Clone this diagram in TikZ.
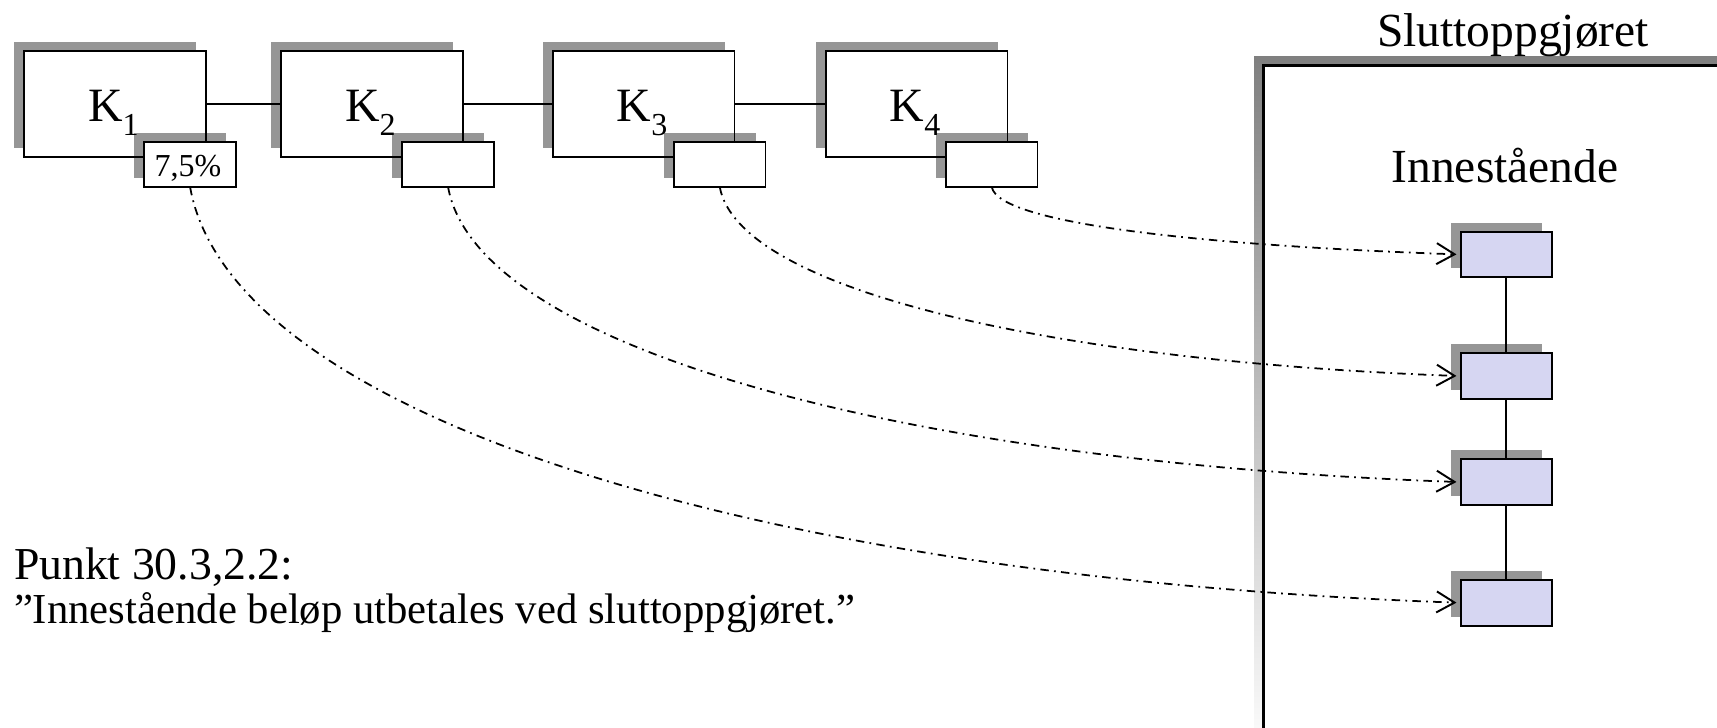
\documentclass[tikz,border=0pt]{standalone}
\usepackage{fontspec}
\setmainfont{Liberation Serif}
\usetikzlibrary{arrows.meta}
\pgfdeclarelayer{framelayer}
\pgfdeclarelayer{bg}
\pgfsetlayers{framelayer,bg,main}
\definecolor{shade}{RGB}{150,150,150}
\definecolor{lav}{RGB}{214,214,242}
\tikzset{
  kbox/.style={draw, line width=0.5pt, minimum width=1.817cm, minimum height=1.06cm, inner sep=0pt, outer sep=0pt, anchor=north west},
  sbox/.style={draw, fill=white, line width=0.5pt, minimum width=0.915cm, minimum height=0.453cm, inner sep=0pt, outer sep=0pt, anchor=north west},
  bluebox/.style={draw, fill=lav, line width=0.55pt, minimum width=0.91cm, minimum height=0.456cm, inner sep=0pt, outer sep=0pt, anchor=north west},
  link/.style={line width=0.45pt},
  flow/.style={line width=0.5pt, dash pattern=on 2.4pt off 1.5pt on 0.5pt off 1.5pt,
    -{Straight Barb[length=1.8mm,width=2.1mm,line width=0.55pt]}, shorten >=1.2pt},
  shadowfill/.style={fill=shade},
  ktext/.style={font=\fontsize{13.6}{16}\selectfont, inner sep=0pt, anchor=base},
  pcttext/.style={font=\fontsize{9.1}{11}\selectfont, inner sep=0pt, anchor=base},
  titletext/.style={font=\fontsize{13.5}{16}\selectfont, inner sep=0pt, anchor=base},
  punkttext/.style={font=\fontsize{13}{16}\selectfont, inner sep=0pt, anchor=base west},
  quotetext/.style={font=\fontsize{12.15}{15}\selectfont, inner sep=0pt, anchor=base west},
}
\newcommand{\ksub}[1]{K\raisebox{-0.133cm}{\fontsize{9.1}{10}\selectfont #1}}
\begin{document}
\begin{tikzpicture}[x=0.01cm,y=-0.01cm]
\useasboundingbox (0,0) rectangle (1717,728);
\clip (0,0) rectangle (1717,728);

% frame (Sluttoppgjoret)
\begin{pgfonlayer}{framelayer}
  \fill[shade] (1254,56.7) rectangle (1760,760);
  \draw[fill=white, line width=0.85pt] (1263.5,65.7) rectangle (1770,770);
\end{pgfonlayer}

% K boxes
\node[kbox] (K1) at (24,50.7) {};
\node[kbox] (K2) at (281,50.7) {};
\node[kbox] (K3) at (552.7,50.7) {};
\node[kbox] (K4) at (825.7,50.7) {};

% small boxes
\node[sbox] (S1) at (144.3,141.7) {};
\node[sbox] (S2) at (402.3,141.7) {};
\node[sbox] (S3) at (674,141.7) {};
\node[sbox] (S4) at (946,141.7) {};

% blue boxes
\node[bluebox] (B1) at (1460.7,231.7) {};
\node[bluebox] (B2) at (1460.7,353.3) {};
\node[bluebox] (B3) at (1460.7,459.3) {};
\node[bluebox] (B4) at (1460.7,580) {};

% shadows
\begin{pgfonlayer}{bg}
  \foreach \n in {K1,K2,K3,K4}{
    \fill[shadowfill] ([xshift=-0.1cm,yshift=0.09cm]\n.north west) rectangle ([xshift=-0.1cm,yshift=0.09cm]\n.south east);
    \fill[white] (\n.north west) rectangle (\n.south east);
  }
  \foreach \n in {S1,S2,S3,S4,B1,B2,B3,B4}{
    \fill[shadowfill] ([xshift=-0.1cm,yshift=0.09cm]\n.north west) rectangle ([xshift=-0.1cm,yshift=0.09cm]\n.south east);
  }
\end{pgfonlayer}

% labels
\node[ktext] (L1) at ([xshift=-0.015cm,yshift=-0.18cm]K1.center) {\ksub{1}};
\node[ktext] (L2) at ([xshift=-0.015cm,yshift=-0.18cm]K2.center) {\ksub{2}};
\node[ktext] (L3) at ([xshift=-0.015cm,yshift=-0.18cm]K3.center) {\ksub{3}};
\node[ktext] (L4) at ([xshift=-0.015cm,yshift=-0.18cm]K4.center) {\ksub{4}};
\node[pcttext] (pct) at (188,176.7) {7,5\%};

\node[titletext] (slutt) at (1513,46.7) {Sluttoppgjøret};
\node[titletext] (inne) at (1505,182.7) {Innestående};
\node[punkttext] (punkt) at (13.3,580) {Punkt 30.3,2.2:};
\node[quotetext] (sitat) at (13.3,624) {”Innestående beløp utbetales ved sluttoppgjøret.”};

% chain connectors
\draw[link] (K1.east) -- (K2.west);
\draw[link] (K2.east) -- (K3.west);
\draw[link] (K3.east) -- (K4.west);
\draw[link] (B1.south) -- (B2.north);
\draw[link] (B2.south) -- (B3.north);
\draw[link] (B3.south) -- (B4.north);

% flows
\draw[flow] (S1.south) .. controls +(41,230) and +(-700,-25) .. (B4.west);
\draw[flow] (S2.south) .. controls +(29,162) and +(-554,-20) .. (B3.west);
\draw[flow] (S3.south) .. controls +(19,104) and +(-405,-15) .. (B2.west);
\draw[flow] (S4.south) .. controls +(7,37) and +(-255,-9) .. (B1.west);
\end{tikzpicture}
\end{document}
